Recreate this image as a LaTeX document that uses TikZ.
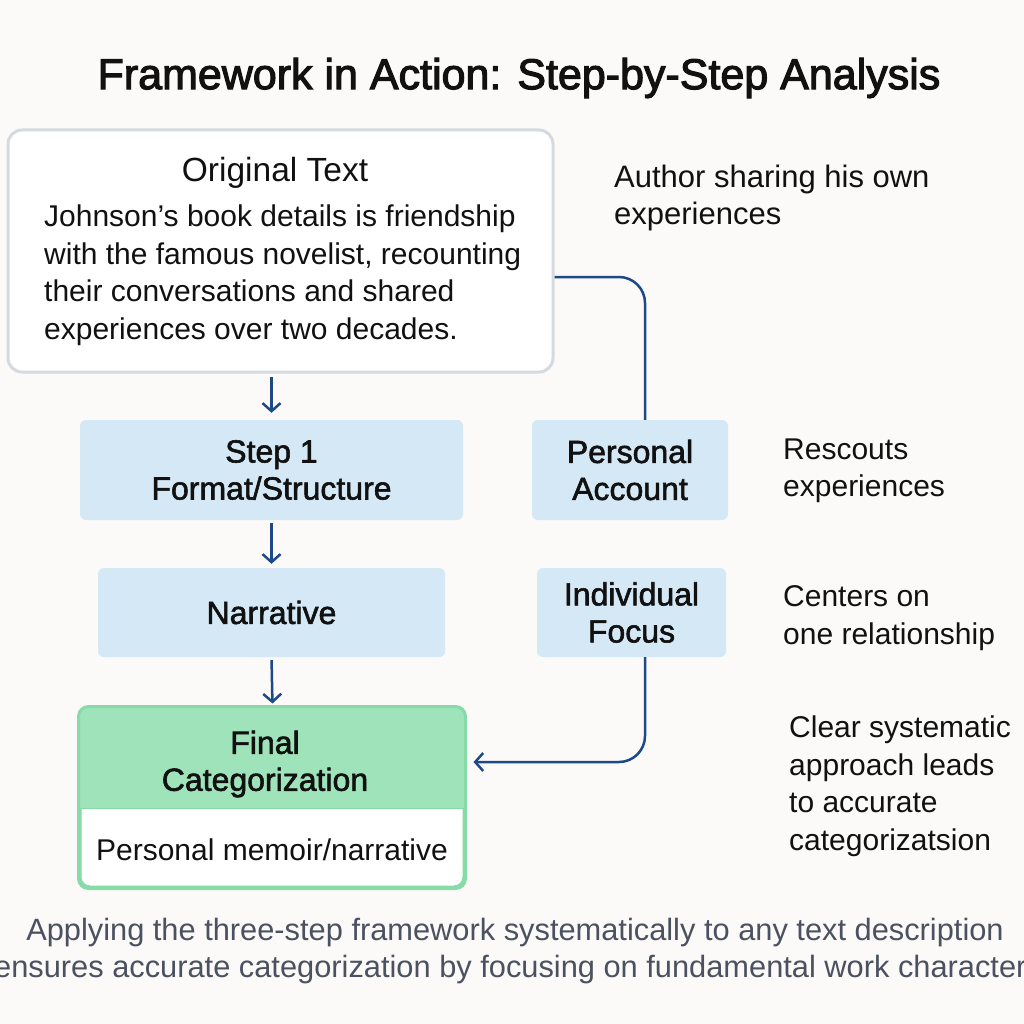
\documentclass[tikz,border=0pt]{standalone}
\usepackage{fontspec}
\setmainfont{Liberation Sans}
\newfontfamily\medfont[FakeBold=1.8]{Liberation Sans}
\newfontfamily\titlefont[FakeBold=2.6]{Liberation Sans}
\usetikzlibrary{arrows.meta,calc}
\definecolor{bg}{HTML}{FBFAF8}
\definecolor{boxblue}{HTML}{D5E8F5}
\definecolor{boxgreen}{HTML}{9FE3BB}
\definecolor{greenline}{HTML}{86DBA8}
\definecolor{origline}{HTML}{D5D9E0}
\definecolor{conn}{HTML}{1D4A87}
\definecolor{txt}{HTML}{111111}
\definecolor{foot}{HTML}{4B5160}
\tikzset{
  bluebox/.style={fill=boxblue, rounded corners=6pt, inner sep=0pt, text=txt,
    font=\medfont\fontsize{32}{37}\selectfont, align=center},
  origbox/.style={draw=origline, line width=3pt, fill=white, rounded corners=14pt, inner sep=0pt},
  finalbox/.style={draw=greenline, line width=3pt, fill=white, rounded corners=10pt, inner sep=0pt},
  plain/.style={inner sep=0pt, text=txt, font=\fontsize{30}{37.5}\selectfont},
  flow/.style={draw=conn, line width=2.5pt, -{Straight Barb[length=8pt,width=18pt,line width=2.5pt]}},
  link/.style={draw=conn, line width=2.5pt, rounded corners=26pt},
}
\begin{document}
\begin{tikzpicture}[x=1pt,y=-1pt]
\useasboundingbox (0,0) rectangle (1024,1024);
\fill[bg] (0,0) rectangle (1024,1024);

% title
\node[inner sep=0pt, text=txt, font=\titlefont\fontsize{43}{48}\selectfont] (title) at (519,78) {Framework in Action: Step-by-Step Analysis};

% original text box
\node[origbox, minimum width=545pt, minimum height=242pt] (orig) at (280.5,251) {};
\node[inner sep=0pt, text=txt, font=\fontsize{33.5}{38}\selectfont] (origtitle) at (275,173) {Original Text};
\node[plain, anchor=west, align=left] (origbody) at (44,275) {Johnson’s book details is friendship\\with the famous novelist, recounting\\their conversations and shared\\experiences over two decades.};

% left column
\node[bluebox, minimum width=383pt, minimum height=100pt] (step1) at (271.5,470) {Step 1\\Format/Structure};
\node[bluebox, minimum width=347pt, minimum height=89pt] (narr) at (271.5,612.5) {Narrative};
\node[finalbox, minimum width=384pt, minimum height=179pt] (fin) at (272,797.5) {};
\begin{scope}
  \clip[rounded corners=10pt] (fin.south west) rectangle (fin.north east);
  \fill[boxgreen] (fin.north west) rectangle ($(fin.north east)+(0,102)$);
\end{scope}
\draw[greenline, line width=3pt, rounded corners=10pt] (fin.south west) rectangle (fin.north east);
\draw[greenline, line width=1.5pt] ($(fin.north west)+(0,102)$) -- ($(fin.north east)+(0,102)$);
\node[inner sep=0pt, text=txt, font=\medfont\fontsize{32}{37}\selectfont, align=center] (fintitle) at (265,764) {Final\\Categorization};
\node[plain] (finsub) at (272,850) {Personal memoir/narrative};

% right column
\node[bluebox, minimum width=196pt, minimum height=100pt] (pa) at (630,470) {Personal\\Account};
\node[bluebox, minimum width=189pt, minimum height=89pt] (ifoc) at (631.5,612.5) {Individual\\Focus};

% side notes
\node[inner sep=0pt, text=txt, font=\fontsize{31}{37.5}\selectfont, anchor=west, align=left] (note1) at (614,198) {Author sharing his own\\experiences};
\node[plain, anchor=west, align=left] (note2) at (783,471) {Rescouts\\experiences};
\node[plain, anchor=west, align=left] (note3) at (783,618) {Centers on\\one relationship};
\node[plain, anchor=west, align=left] (note4) at (789,786) {Clear systematic\\approach leads\\to accurate\\categorizatsion};

% connectors
\draw[flow, shorten <=3pt, shorten >=7pt] (orig.south -| step1.north) -- (step1.north);
\draw[flow, shorten <=3pt, shorten >=4pt] (step1.south) -- (narr.north);
\draw[flow, shorten <=3pt, shorten >=3pt] (narr.south) -- ($(fin.north)+(0.5,0)$);
\draw[link] ([yshift=-26pt]orig.east) -| ([xshift=15pt]pa.north);
\draw[link, -{Straight Barb[length=8pt,width=18pt,line width=2.5pt]}, shorten >=8pt] ([xshift=13.5pt]ifoc.south) |- ([yshift=35.5pt]fin.east);

% footer (clipped at the page edge, as in the reference)
\node[inner sep=0pt, text=foot, font=\fontsize{30.8}{36}\selectfont] (foot1) at (515,933) {Applying the three-step framework systematically to any text description};
\node[inner sep=0pt, text=foot, font=\fontsize{30.8}{36}\selectfont, anchor=west] (foot2) at (-6,970) {ensures accurate categorization by focusing on fundamental work characteristics};
\end{tikzpicture}
\end{document}
